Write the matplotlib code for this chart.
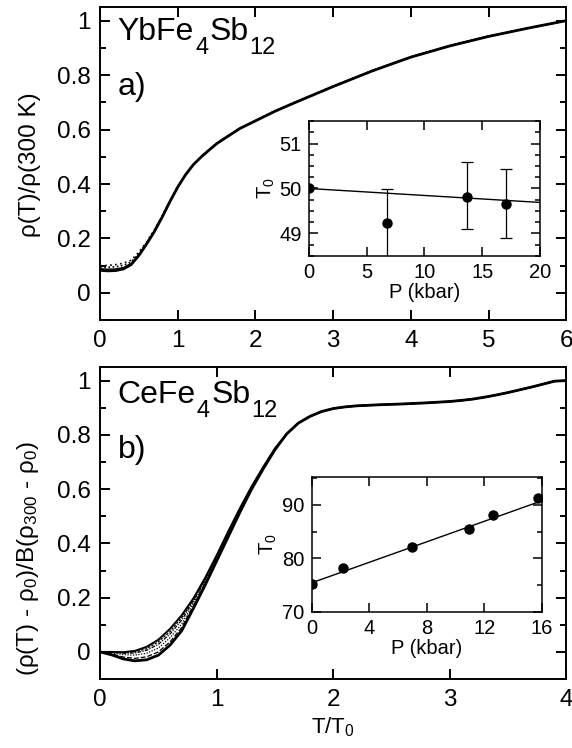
import matplotlib
matplotlib.use("Agg")
import matplotlib.pyplot as plt
from matplotlib.ticker import MultipleLocator
from matplotlib.transforms import offset_copy

plt.rcParams['font.family'] = ['Liberation Sans', 'DejaVu Sans']
plt.rcParams['mathtext.fontset'] = 'custom'
plt.rcParams['mathtext.rm'] = 'Liberation Sans'
plt.rcParams['mathtext.it'] = 'Liberation Sans:italic'
plt.rcParams['mathtext.bf'] = 'Liberation Sans:bold'

# ---------------- data: panel a (YbFe4Sb12) ----------------
T_a = [0, 0.1, 0.2, 0.3, 0.4, 0.5, 0.6, 0.7, 0.8, 0.9, 1.0, 1.1, 1.2, 1.3, 1.4,
       1.5, 1.6, 1.8, 2.0, 2.25, 2.5, 3.0, 3.5, 4.0, 4.5, 5.0, 5.5, 6.0]
rho_a_0kbar = [0.083, 0.081, 0.082, 0.088, 0.104, 0.138, 0.180, 0.226, 0.279, 0.336,
               0.389, 0.434, 0.471, 0.499, 0.524, 0.548, 0.567, 0.604, 0.632, 0.667,
               0.698, 0.758, 0.815, 0.866, 0.907, 0.942, 0.972, 1.000]
rho_a_7kbar = [0.089, 0.087, 0.088, 0.093, 0.108, 0.141, 0.182, 0.228, 0.281, 0.337,
               0.390, 0.435, 0.472, 0.500, 0.525, 0.549, 0.568, 0.605, 0.633, 0.668,
               0.699, 0.759, 0.816, 0.867, 0.908, 0.943, 0.972, 1.000]
rho_a_14kbar = [0.095, 0.094, 0.096, 0.101, 0.114, 0.145, 0.185, 0.230, 0.282, 0.338,
                0.391, 0.435, 0.472, 0.500, 0.525, 0.549, 0.568, 0.605, 0.633, 0.668,
                0.699, 0.759, 0.816, 0.867, 0.908, 0.943, 0.972, 1.000]
rho_a_17kbar = [0.100, 0.101, 0.104, 0.109, 0.120, 0.150, 0.188, 0.232, 0.283, 0.338,
                0.390, 0.434, 0.471, 0.499, 0.524, 0.548, 0.567, 0.604, 0.632, 0.667,
                0.698, 0.758, 0.815, 0.866, 0.907, 0.942, 0.972, 1.000]

# inset a
P_a = [0, 6.8, 13.7, 17.1]
T0_a = [50.0, 49.23, 49.82, 49.66]
T0_a_err_lo = [0.0, 0.9, 0.73, 0.75]
T0_a_err_hi = [0.0, 0.75, 0.77, 0.78]
fit_a_P = [0, 20]
fit_a_T0 = [50.0, 49.69]

# ---------------- data: panel b (CeFe4Sb12) ----------------
T_b = [0, 0.1, 0.2, 0.3, 0.4, 0.5, 0.6, 0.7, 0.8, 0.9, 1.0, 1.1, 1.2, 1.3, 1.4, 1.5,
       1.6, 1.7, 1.8, 1.9, 2.0, 2.1, 2.2, 2.4, 2.6, 2.8, 3.0, 3.1, 3.2, 3.3, 3.4,
       3.5, 3.6, 3.7, 3.8, 3.9, 4.0]
tail_b = [0.803, 0.843, 0.868, 0.886, 0.897, 0.903, 0.907, 0.911, 0.914, 0.918,
          0.923, 0.927, 0.932, 0.939, 0.947, 0.956, 0.966, 0.976, 0.987, 0.998, 1.000]
rho_b_0kbar = [0, -0.011, -0.026, -0.033, -0.029, -0.012, 0.025, 0.078, 0.160, 0.245,
               0.335, 0.425, 0.515, 0.600, 0.675, 0.745] + tail_b
rho_b_2kbar = [0, -0.008, -0.019, -0.024, -0.018, 0.000, 0.037, 0.090, 0.170, 0.253,
               0.341, 0.430, 0.519, 0.603, 0.677, 0.746] + tail_b
rho_b_7kbar = [0, -0.004, -0.010, -0.012, -0.005, 0.014, 0.052, 0.103, 0.179, 0.260,
               0.346, 0.435, 0.523, 0.605, 0.679, 0.747] + tail_b
rho_b_11kbar = [0, -0.002, -0.005, -0.004, 0.006, 0.028, 0.066, 0.117, 0.187, 0.265,
                0.350, 0.440, 0.526, 0.607, 0.680, 0.748] + tail_b
rho_b_13kbar = [0, -0.001, -0.003, 0.000, 0.012, 0.037, 0.075, 0.126, 0.192, 0.268,
                0.353, 0.442, 0.528, 0.608, 0.681, 0.749] + tail_b
rho_b_16kbar = [0, 0.000, -0.001, 0.004, 0.019, 0.045, 0.085, 0.135, 0.197, 0.272,
                0.356, 0.445, 0.530, 0.610, 0.682, 0.750] + tail_b

# inset b
P_b = [0, 2.2, 6.95, 10.9, 12.6, 15.7]
T0_b = [75.1, 78.2, 82.2, 85.5, 88.1, 91.3]
T0_b_err = [0.4, 0.4, 0.4, 0.5, 0.4, 0.5]
fit_b_P = [0, 16]
fit_b_T0 = [75.4, 90.8]

# ---------------- figure ----------------
fig = plt.figure(figsize=(5.72, 7.48), dpi=100)
renderer = fig.canvas.get_renderer()

TICK_FS = 17.5
LABEL_FS = 17.5
INSET_FS = 14.5


def style_axes(ax, major_len=7.2, minor_len=4.2, lw=1.4, fs=TICK_FS, pad=7):
    for s in ax.spines.values():
        s.set_linewidth(lw)
        s.set_color('black')
    ax.tick_params(which='both', direction='in', top=True, right=True,
                   colors='black', width=lw)
    ax.tick_params(which='major', length=major_len, labelsize=fs, pad=pad)
    ax.tick_params(which='minor', length=minor_len)


def formula(ax, x, y, pieces):
    """Draw a chemical formula piece by piece (text, fontsize, drop in pixels)."""
    xoff = 0.0
    for s, size, drop in pieces:
        tr = offset_copy(ax.transAxes, fig=fig, x=xoff, y=-drop, units='dots')
        t = ax.text(x, y, s, transform=tr, fontsize=size, ha='left', va='baseline')
        xoff += t.get_window_extent(renderer).width + 1.0


# Panel a
ax1 = fig.add_axes([0.175, 0.572, 0.815, 0.4186])
ax1.plot(T_a, rho_a_0kbar, color='black', lw=2.0, solid_joinstyle='round')
ax1.plot(T_a, rho_a_7kbar, color='black', lw=1.0)
ax1.plot(T_a, rho_a_14kbar, color='black', lw=1.2, ls=(0, (1, 1.5)))
ax1.plot(T_a, rho_a_17kbar, color='black', lw=1.2, ls=(0, (1, 2)))
ax1.set_xlim(0, 6)
ax1.set_ylim(-0.1, 1.05)
ax1.xaxis.set_major_locator(MultipleLocator(1))
ax1.yaxis.set_minor_locator(MultipleLocator(0.1))
ax1.set_yticks([0, 0.2, 0.4, 0.6, 0.8, 1.0])
ax1.set_yticklabels(['0', '0.2', '0.4', '0.6', '0.8', '1'])
style_axes(ax1)
fig.text(30 / 572, 1 - 165 / 748, 'ρ(T)/ρ(300 K)', rotation=90, ha='center',
         va='center', fontsize=LABEL_FS)
formula(ax1, 0.038, 0.895, [('YbFe', 23, 0), ('4', 17, 14), ('Sb', 23, 0), ('12', 17, 14)])
ax1.text(0.038, 0.72, 'a)', transform=ax1.transAxes, fontsize=23,
         ha='left', va='baseline')

# Inset a
ins1 = fig.add_axes([0.540, 0.6578, 0.404, 0.1804])
ins1.errorbar(P_a, T0_a, yerr=[T0_a_err_lo, T0_a_err_hi], fmt='o', color='black',
              ms=6.5, elinewidth=0.9, capsize=4.5, capthick=0.9, zorder=3)
ins1.plot(fit_a_P, fit_a_T0, color='black', lw=1.0)
ins1.set_xlim(0, 20)
ins1.set_ylim(48.5, 51.5)
ins1.xaxis.set_major_locator(MultipleLocator(5))
ins1.yaxis.set_major_locator(MultipleLocator(1))
ins1.yaxis.set_minor_locator(MultipleLocator(0.25))
style_axes(ins1, major_len=6.5, minor_len=3.5, lw=1.1, fs=INSET_FS, pad=5)
ins1.set_xlabel('P (kbar)', fontsize=INSET_FS, labelpad=1)
ins1.set_ylabel(r'T$_0$', fontsize=INSET_FS, labelpad=2)

# Panel b
ax2 = fig.add_axes([0.175, 0.0922, 0.815, 0.4171])
ax2.plot(T_b, rho_b_0kbar, color='black', lw=2.0)
ax2.plot(T_b, rho_b_2kbar, color='black', lw=0.9, ls=(0, (4, 1.5)))
ax2.plot(T_b, rho_b_7kbar, color='black', lw=0.9, ls=(0, (1, 1.2)))
ax2.plot(T_b, rho_b_11kbar, color='black', lw=0.9, ls=(0, (3, 1, 1, 1)))
ax2.plot(T_b, rho_b_13kbar, color='black', lw=0.9, ls=(0, (2, 1)))
ax2.plot(T_b, rho_b_16kbar, color='black', lw=1.4)
ax2.set_xlim(0, 4)
ax2.set_ylim(-0.1, 1.05)
ax2.xaxis.set_major_locator(MultipleLocator(1))
ax2.yaxis.set_minor_locator(MultipleLocator(0.1))
ax2.set_yticks([0, 0.2, 0.4, 0.6, 0.8, 1.0])
ax2.set_yticklabels(['0', '0.2', '0.4', '0.6', '0.8', '1'])
style_axes(ax2)
ax2.set_xlabel(r'T/T$_0$', fontsize=16, labelpad=3)
fig.text(28 / 572, 1 - 559 / 748, '(ρ(T) - ρ$_0$)/B(ρ$_{300}$ - ρ$_0$)',
         rotation=90, ha='center', va='center', fontsize=LABEL_FS)
formula(ax2, 0.038, 0.884, [('CeFe', 23, 0), ('4', 17, 14), ('Sb', 23, 0), ('12', 17, 14)])
ax2.text(0.038, 0.71, 'b)', transform=ax2.transAxes, fontsize=23,
         ha='left', va='baseline')

# Inset b
ins2 = fig.add_axes([0.5446, 0.1822, 0.4030, 0.1805])
ins2.errorbar(P_b, T0_b, yerr=T0_b_err, fmt='o', color='black', ms=6.5,
              elinewidth=0.9, capsize=3, capthick=0.9, zorder=3)
ins2.plot(fit_b_P, fit_b_T0, color='black', lw=1.0)
ins2.set_xlim(0, 16)
ins2.set_ylim(70, 95.3)
ins2.xaxis.set_major_locator(MultipleLocator(4))
ins2.set_yticks([70, 80, 90])
ins2.yaxis.set_minor_locator(MultipleLocator(5))
style_axes(ins2, major_len=6.5, minor_len=3.5, lw=1.1, fs=INSET_FS, pad=5)
ins2.set_xlabel('P (kbar)', fontsize=INSET_FS, labelpad=1)
ins2.set_ylabel(r'T$_0$', fontsize=INSET_FS, labelpad=2)

fig.savefig('out.png', dpi=100, facecolor='white')
